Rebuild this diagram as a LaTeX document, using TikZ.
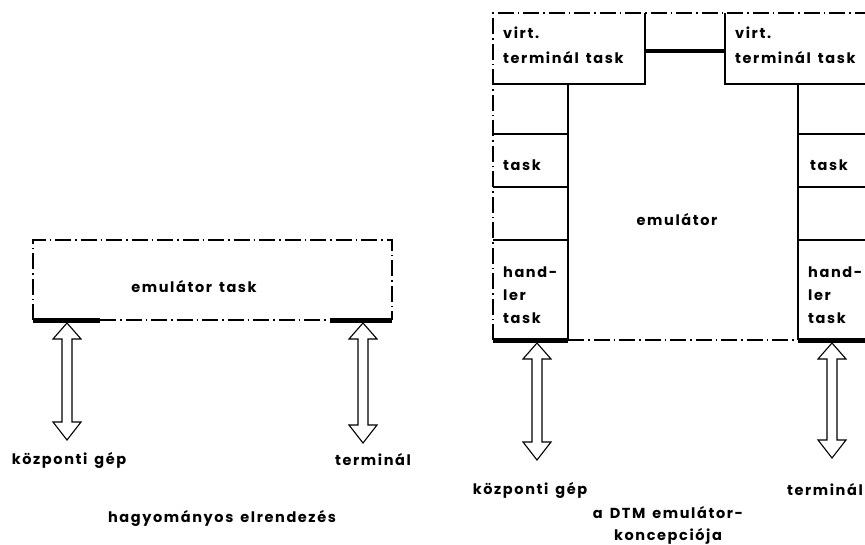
\documentclass[tikz,border=0pt]{standalone}
\usepackage{fontspec}
\setmainfont{Poppins}[LetterSpace=11, WordSpace=1.5]
\newcommand\hollowarrow[3]{%
  \draw[line width=1.1pt, fill=white] (#1,#2) -- (#1+14,#2+16) -- (#1+5,#2+16) -- (#1+5,#3-18) -- (#1+14,#3-18) -- (#1,#3) -- (#1-14,#3-18) -- (#1-5,#3-18) -- (#1-5,#2+16) -- (#1-14,#2+16) -- cycle;}
\begin{document}
\begin{tikzpicture}[x=1pt,y=-1pt,
  dd/.style={line width=1.1pt, dash pattern=on 16pt off 4pt on 1.5pt off 4pt},
  sl/.style={line width=1.4pt},
  bar/.style={line width=5pt},
  midbar/.style={line width=4pt},
  lab/.style={font=\fontsize{14.5}{16}\selectfont\bfseries, inner sep=0pt},
  mlab/.style={font=\fontsize{14.5}{23}\selectfont\bfseries, inner sep=0pt, align=left, anchor=west},
  area/.style={inner sep=0pt, outer sep=0pt, draw=none}]
\useasboundingbox (0,0) rectangle (865,544);
% ---------- left: traditional arrangement
\node[area, minimum width=359pt, minimum height=80pt] (emu) at (212.5,280) {};
\node[lab] (emutxt) at (194,287) {emulátor task};
\draw[dd] (emu.south west) -- (emu.north west) -- (emu.north east) -- (emu.south east);
\coordinate (b1e) at (100,320);
\coordinate (b2s) at (330,320);
\draw[bar] (emu.south west) -- (b1e);
\draw[dd] (b1e) -- (b2s);
\draw[bar] (b2s) -- (emu.south east);
\hollowarrow{67}{323}{440}
\hollowarrow{363}{323}{443}
\node[lab] (kg1) at (69,460) {központi gép};
\node[lab] (t1) at (373,460) {terminál};
\node[lab] (cap1) at (222,518) {hagyományos elrendezés};
% ---------- right: DTM concept
\node[area, minimum width=152pt, minimum height=71pt] (vt1) at (569,48.5) {};
\node[area, minimum width=140pt, minimum height=71pt] (vt2) at (795,48.5) {};
\node[area, minimum width=75pt, minimum height=50pt] (lc1) at (530.5,109) {};
\node[area, minimum width=75pt, minimum height=53pt] (lc2) at (530.5,160.5) {};
\node[area, minimum width=75pt, minimum height=53pt] (lc3) at (530.5,213.5) {};
\node[area, minimum width=75pt, minimum height=100pt] (lc4) at (530.5,290) {};
\node[area, minimum width=67pt, minimum height=50pt] (rc1) at (831.5,109) {};
\node[area, minimum width=67pt, minimum height=53pt] (rc2) at (831.5,160.5) {};
\node[area, minimum width=67pt, minimum height=53pt] (rc3) at (831.5,213.5) {};
\node[area, minimum width=67pt, minimum height=100pt] (rc4) at (831.5,290) {};
% outer dash-dot
\draw[dd] (lc4.south west) -- (vt1.north west) -- (vt2.north east);
% virtual terminal boxes
\draw[sl] (vt1.north east) -- (vt1.south east) -- (vt1.south west);
\draw[sl] (vt2.north west) -- (vt2.south west) -- (vt2.south east);
\draw[midbar] ([yshift=-2.5pt]vt1.east) -- ([yshift=-2.5pt]vt2.west);
% columns
\draw[sl] (lc1.north east) -- (lc4.south east);
\draw[sl] (lc1.south west) -- (lc1.south east);
\draw[sl] (lc2.south west) -- (lc2.south east);
\draw[sl] (lc3.south west) -- (lc3.south east);
\draw[sl] (rc1.north west) -- (rc4.south west);
\draw[sl] (rc1.south west) -- (rc1.south east);
\draw[sl] (rc2.south west) -- (rc2.south east);
\draw[sl] (rc3.south west) -- (rc3.south east);
% bottom
\draw[bar] (lc4.south west) -- (lc4.south east);
\draw[dd] (lc4.south east) -- (rc4.south west);
\draw[bar] (rc4.south west) -- (rc4.south east);
% texts
\node[mlab, font=\fontsize{14.5}{25}\selectfont\bfseries] (vt1t) at (503,45.5) {virt.\\terminál task};
\node[mlab, font=\fontsize{14.5}{25}\selectfont\bfseries] (vt2t) at (735,45.5) {virt.\\terminál task};
\node[mlab] (lc2t) at (503,165) {task};
\node[mlab] (rc2t) at (810,165) {task};
\node[mlab] (lc4t) at (503,295) {hand-\\ler\\task};
\node[mlab] (rc4t) at (808,295) {hand-\\ler\\task};
\node[lab] (emut) at (677,220) {emulátor};
\hollowarrow{537}{343}{460}
\hollowarrow{832}{343}{458}
\node[lab] (kg2) at (530,490) {központi gép};
\node[lab, anchor=east] (t2) at (863,490) {terminál};
\node[lab, align=center, font=\fontsize{14.5}{22}\selectfont\bfseries] (cap2) at (668,525) {a DTM emulátor-\\koncepciója};
\end{tikzpicture}
\end{document}
